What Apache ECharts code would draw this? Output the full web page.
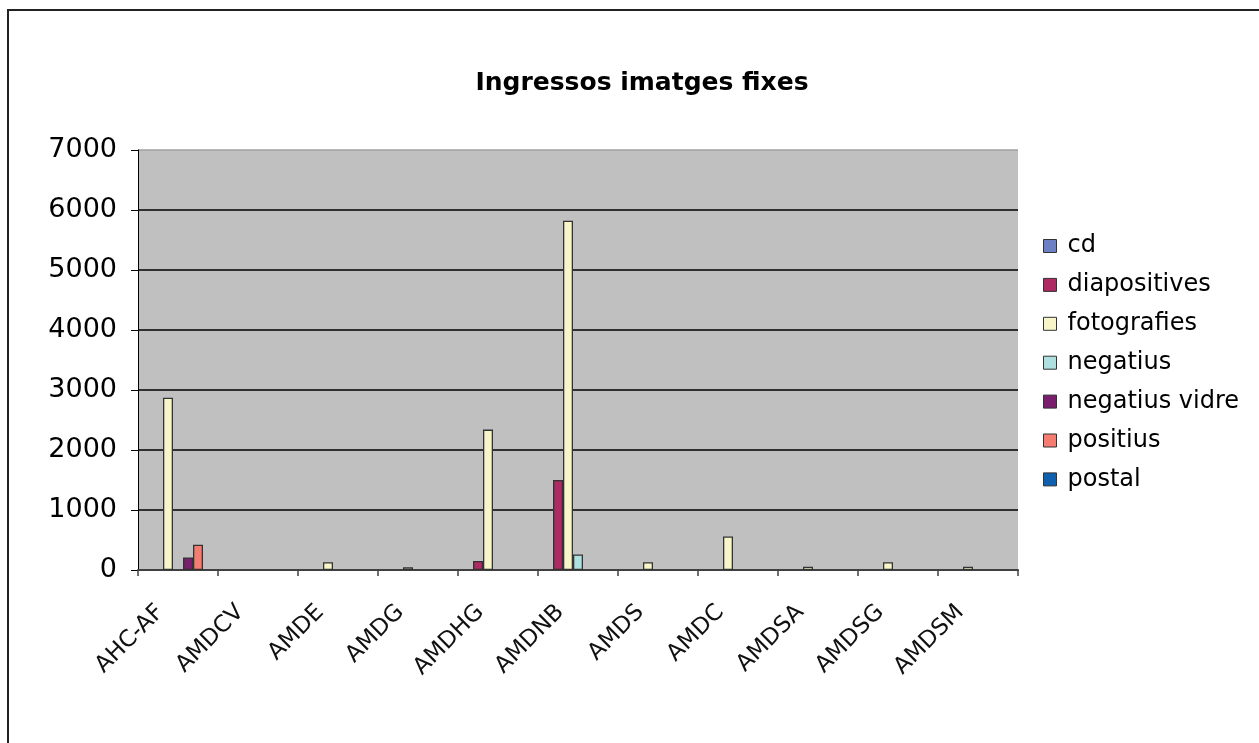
<!DOCTYPE html>
<html>
<head>
<meta charset="utf-8">
<script src="https://cdn.jsdelivr.net/npm/echarts@6/dist/echarts.min.js"></script>
<style>
html,body{margin:0;padding:0;background:#fff;}
#chart{width:1259px;height:743px;}
</style>
</head>
<body>
<div id="chart"></div>
<script>
var categories = ['AHC-AF','AMDCV','AMDE','AMDG','AMDHG','AMDNB','AMDS','AMDC','AMDSA','AMDSG','AMDSM'];
var cd            = [null,null,null,null,null,null,null,null,null,null,null];
var diapositives  = [null,null,null,null,150,1500,null,null,null,null,null];
var fotografies   = [2870,null,130,45,2340,5820,130,560,55,130,55];
var negatius      = [null,null,null,null,null,260,null,null,null,null,null];
var negatiusVidre = [210,null,null,null,null,null,null,null,null,null,null];
var positius      = [420,null,null,null,null,null,null,null,null,null,null];
var postal        = [null,null,null,null,null,null,null,null,null,null,null];
var yTicks = [0,1000,2000,3000,4000,5000,6000,7000];

var seriesDefs = [
  ['cd', cd, '#6E80C4'],
  ['diapositives', diapositives, '#AE2A62'],
  ['fotografies', fotografies, '#F8F6C8'],
  ['negatius', negatius, '#AEE0E0'],
  ['negatius vidre', negatiusVidre, '#7A1F6E'],
  ['positius', positius, '#F47C70'],
  ['postal', postal, '#1060B0']
];

var FONT = 'DejaVu Sans';
var chart = echarts.init(document.getElementById('chart'), null, {renderer:'canvas'});
chart.setOption({
  backgroundColor:'#ffffff',
  animation:false,
  title:{
    text:'Ingressos imatges fixes',
    left:637, top:66, textAlign:'center',
    textStyle:{fontFamily:FONT, fontWeight:'bold', fontSize:25, color:'#000'}
  },
  graphic:[{
    type:'rect', silent:true, z:100,
    shape:{x:8, y:10, width:1300, height:800},
    style:{fill:null, stroke:'#222', lineWidth:2}
  }],
  legend:{
    orient:'vertical', left:1038, top:229,
    itemWidth:13, itemHeight:13, itemGap:14.9,
    icon:'rect',
    data:seriesDefs.map(function(s){return s[0];}),
    textStyle:{fontFamily:FONT, fontSize:24, color:'#000', lineHeight:24, padding:[0,0,0,6]},
    itemStyle:{borderColor:'#333', borderWidth:1}
  },
  grid:{
    left:138, right:241, top:150, bottom:173,
    show:true, backgroundColor:'#C0C0C0', borderWidth:0
  },
  xAxis:{
    type:'category', data:categories,
    axisLine:{lineStyle:{color:'#404040', width:2}},
    axisTick:{show:true, length:6, lineStyle:{color:'#404040', width:1.5}},
    axisLabel:{rotate:45, margin:21, padding:[0,25,0,0], fontFamily:FONT, fontSize:23, color:'#111', interval:0}
  },
  yAxis:{
    type:'value', min:0, max:7000, interval:1000,
    axisLine:{show:true, lineStyle:{color:'#000', width:1}},
    axisTick:{show:true, length:7, lineStyle:{color:'#000', width:1}},
    axisLabel:{margin:21, fontFamily:FONT, fontSize:27, color:'#000',
      formatter:function(v){return yTicks.indexOf(v) >= 0 ? String(v) : '';}},
    splitLine:{show:true, lineStyle:{color:['#000','#000','#000','#000','#000','#000','#000','#A0A0A0'], width:1.5}}
  },
  series:seriesDefs.map(function(s){
    return {
      name:s[0], type:'bar', data:s[1],
      barWidth:10, barGap:'0%',
      itemStyle:{color:s[2], borderColor:'#333', borderWidth:1.3}
    };
  })
});
</script>
</body>
</html>
